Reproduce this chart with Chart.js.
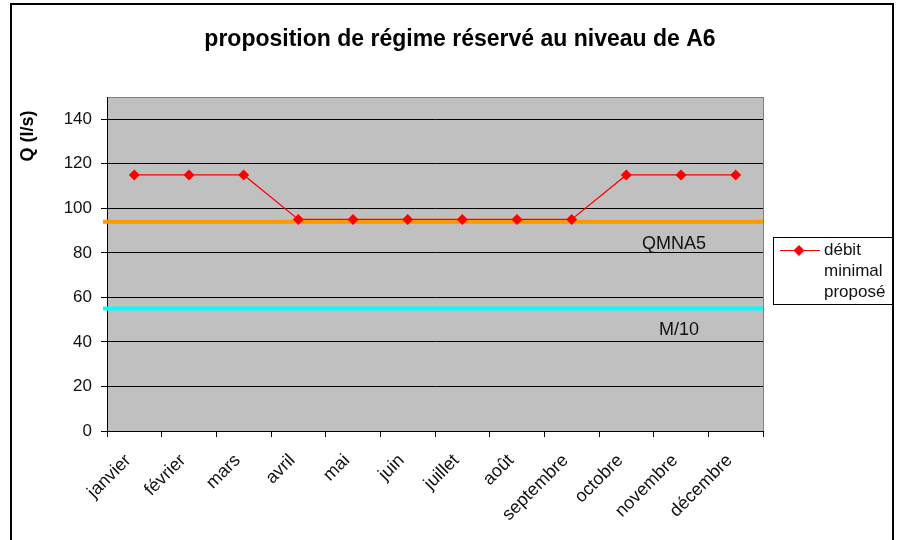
<!DOCTYPE html>
<html>
<head>
<meta charset="utf-8">
<script src="https://cdn.jsdelivr.net/npm/chart.js@4.4.1/dist/chart.umd.min.js"></script>
<style>
    html, body { margin: 0; padding: 0; background: #fff; }
    #wrap { width: 898px; height: 540px; }
</style>
</head>
<body>
<div id="wrap"><canvas id="regimeChart" width="898" height="540"></canvas></div>
<script>
const mois = ['janvier', 'février', 'mars', 'avril', 'mai', 'juin', 'juillet', 'août', 'septembre', 'octobre', 'novembre', 'décembre'];
const debitPropose = [115, 115, 115, 95, 95, 95, 95, 95, 95, 115, 115, 115];
const qmna5 = 94;
const module10 = 55;
const titre = 'proposition de régime réservé au niveau de A6';
const titreAxeY = 'Q (l/s)';
const legendeLignes = ['débit', 'minimal', 'proposé'];

const police = '"Liberation Sans", Arial, sans-serif';

// cadre, fond gris, seuils QMNA5 / M/10 et légende
const decorPlugin = {
    id: 'decor',
    beforeDraw(chart) {
        const c = chart.ctx;
        const a = chart.chartArea;
        c.save();
        c.fillStyle = '#fff';
        c.fillRect(0, 0, chart.width, chart.height);
        c.strokeStyle = '#000';
        c.lineWidth = 2;
        c.strokeRect(11, 4, 882, 560);
        c.fillStyle = '#c0c0c0';
        c.fillRect(a.left, a.top, a.right - a.left, a.bottom - a.top);
        c.strokeStyle = '#808080';
        c.lineWidth = 1;
        c.beginPath();
        c.moveTo(a.right + 0.5, a.top);
        c.lineTo(a.right + 0.5, a.bottom);
        c.moveTo(a.left, a.top + 0.5);
        c.lineTo(a.right, a.top + 0.5);
        c.stroke();

        c.fillStyle = '#000';
        c.font = 'bold 23px ' + police;
        c.textAlign = 'center';
        c.textBaseline = 'middle';
        c.fillText(titre, 460, 40);

        c.translate(28, 136);
        c.rotate(-Math.PI / 2);
        c.font = 'bold 18px ' + police;
        c.fillText(titreAxeY, 0, 0);
        c.restore();
    },
    beforeDatasetsDraw(chart) {
        const c = chart.ctx;
        const a = chart.chartArea;
        const y = chart.scales.y;
        c.save();
        c.lineWidth = 4;
        c.strokeStyle = '#ff9900';
        c.beginPath();
        c.moveTo(a.left - 4, y.getPixelForValue(qmna5));
        c.lineTo(a.right, y.getPixelForValue(qmna5));
        c.stroke();
        c.strokeStyle = '#00ffff';
        c.beginPath();
        c.moveTo(a.left - 4, y.getPixelForValue(module10));
        c.lineTo(a.right, y.getPixelForValue(module10));
        c.stroke();

        c.fillStyle = '#111';
        c.font = '18px ' + police;
        c.textAlign = 'center';
        c.textBaseline = 'middle';
        c.fillText('QMNA5', 674, y.getPixelForValue(qmna5) + 22);
        c.fillText('M/10', 679, y.getPixelForValue(module10) + 21);
        c.restore();
    },
    afterDraw(chart) {
        const c = chart.ctx;
        c.save();
        c.fillStyle = '#fff';
        c.fillRect(773, 237, 119, 67);
        c.strokeStyle = '#000';
        c.lineWidth = 1;
        c.strokeRect(773.5, 237.5, 119, 67);
        c.strokeStyle = '#ff0000';
        c.beginPath();
        c.moveTo(780, 250.5);
        c.lineTo(820, 250.5);
        c.stroke();
        c.fillStyle = '#ff0000';
        c.beginPath();
        c.moveTo(799, 245);
        c.lineTo(804.5, 250.5);
        c.lineTo(799, 256);
        c.lineTo(793.5, 250.5);
        c.closePath();
        c.fill();
        c.fillStyle = '#111';
        c.font = '17px ' + police;
        c.textAlign = 'left';
        c.textBaseline = 'middle';
        legendeLignes.forEach((l, i) => c.fillText(l, 824, 250 + i * 21));
        c.restore();
    }
};

const ctx = document.getElementById('regimeChart').getContext('2d');
const regimeChart = new Chart(ctx, {
    type: 'line',
    data: {
        labels: mois,
        datasets: [{
            label: 'débit minimal proposé',
            data: debitPropose,
            borderColor: '#ff0000',
            backgroundColor: '#ff0000',
            borderWidth: 1.2,
            pointStyle: 'rectRot',
            pointRadius: 5.5,
            pointBorderWidth: 0,
            tension: 0
        }]
    },
    options: {
        responsive: false,
        animation: false,
        layout: {
            padding: { top: 97, right: 135, left: 0, bottom: 0 }
        },
        plugins: {
            legend: { display: false },
            title: { display: false },
            tooltip: { enabled: false }
        },
        scales: {
            x: {
                offset: true,
                afterFit: (s) => { s.height = 109; },
                grid: {
                    offset: true,
                    drawOnChartArea: false,
                    drawTicks: true,
                    tickLength: 6,
                    color: '#000'
                },
                border: { display: true, color: '#000', width: 1 },
                ticks: {
                    color: '#111',
                    font: { family: police, size: 18 },
                    minRotation: 45,
                    maxRotation: 45,
                    padding: 13,
                    labelOffset: -6,
                    autoSkip: false
                }
            },
            y: {
                min: 0,
                max: 150,
                afterFit: (s) => { s.width = 107; },
                grid: {
                    color: '#000',
                    lineWidth: 1,
                    drawTicks: true,
                    tickLength: 6
                },
                border: { display: true, color: '#000', width: 1 },
                ticks: {
                    stepSize: 20,
                    includeBounds: false,
                    color: '#111',
                    font: { family: police, size: 17 },
                    padding: 9
                }
            }
        }
    },
    plugins: [decorPlugin]
});
</script>
</body>
</html>
